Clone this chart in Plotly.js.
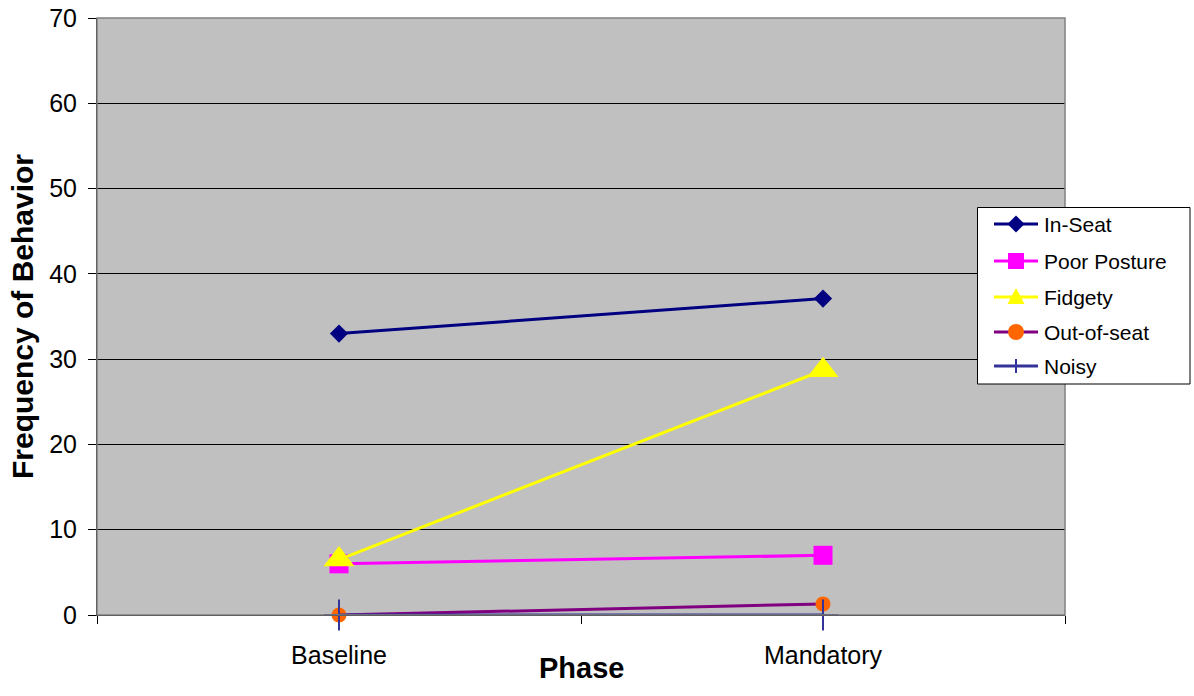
<!DOCTYPE html>
<html>
<head>
<meta charset="utf-8">
<script src="https://cdn.plot.ly/plotly-3.0.1.min.js"></script>
<style>
  html, body { margin: 0; padding: 0; background: #ffffff; }
  #chart { width: 1194px; height: 696px; }
</style>
</head>
<body>
<div id="chart"></div>
<script>
// Phases on the x axis
const phases = ['Baseline', 'Mandatory'];

// Frequency of each behaviour per phase
const inSeat = [33, 37.1];
const poorPosture = [6, 7];
const fidgety = [6.5, 28.7];
const outOfSeat = [0, 1.3];
const noisy = [0, 0];

const seriesNames = ['In-Seat', 'Poor Posture', 'Fidgety', 'Out-of-seat', 'Noisy'];
const yTickValues = [0, 10, 20, 30, 40, 50, 60, 70];

const FONT = 'Liberation Sans, Arial, sans-serif';

// plot-area geometry in pixels
const L = 97, T = 18, W = 968, H = 597;
const FIG_W = 1194, FIG_H = 696;
const px = x => (x - L) / W;
const py = y => (T + H - y) / H;

const styles = [
  { line: '#000080', marker: { symbol: 'diamond', size: 14, color: '#000080', line: { width: 0 } } },
  { line: '#FF00FF', marker: { symbol: 'square', size: 19, color: '#FF00FF', line: { width: 0 } } },
  { line: '#FFFF00', marker: { symbol: 'triangle-up', size: 27, color: '#FFFF00', line: { width: 0 } } },
  { line: '#800080', marker: { symbol: 'circle', size: 15, color: '#FF6600', line: { width: 0 } } },
  { line: '#333399', marker: { symbol: 'cross-thin', size: 22, color: '#333399', line: { width: 2, color: '#333399' } } }
];

const values = [inSeat, poorPosture, fidgety, outOfSeat, noisy];

const traces = values.map((v, i) => ({
  type: 'scatter',
  mode: 'lines+markers',
  name: seriesNames[i],
  x: phases,
  y: v,
  cliponaxis: false,
  line: { color: styles[i].line, width: 3 },
  marker: styles[i].marker,
  showlegend: false,
  hoverinfo: 'x+y+name'
}));

const shapes = [
  // plot frame (top and right edges)
  { type: 'rect', xref: 'paper', yref: 'paper', x0: 0, x1: 1, y0: 0, y1: 1,
    line: { color: '#808080', width: 1.5 }, layer: 'above' },
  // legend box
  { type: 'rect', xref: 'paper', yref: 'paper',
    x0: px(977.5), x1: px(1190), y0: py(384), y1: py(207.5),
    fillcolor: '#ffffff', line: { color: '#000000', width: 1 } }
];
const annotations = [];
const rowY = [224, 261, 297, 332, 366];
const lx0 = 994, lx1 = 1038, mx = 1016;

function polyPath(points) {
  return 'M' + points.map(p => px(p[0]) + ',' + py(p[1])).join('L') + 'Z';
}

// legend rows: line sample, marker sample and label
rowY.forEach((y, i) => {
  shapes.push({ type: 'line', xref: 'paper', yref: 'paper',
    x0: px(lx0), x1: px(lx1), y0: py(y), y1: py(y),
    line: { color: styles[i].line, width: 3 } });
  const c = styles[i].marker.color;
  if (i === 0) {
    shapes.push({ type: 'path', xref: 'paper', yref: 'paper',
      path: polyPath([[mx, y - 8.5], [mx + 8.5, y], [mx, y + 8.5], [mx - 8.5, y]]),
      fillcolor: c, line: { width: 0 } });
  } else if (i === 1) {
    shapes.push({ type: 'rect', xref: 'paper', yref: 'paper',
      x0: px(mx - 8), x1: px(mx + 8), y0: py(y + 8), y1: py(y - 8),
      fillcolor: c, line: { width: 0 } });
  } else if (i === 2) {
    shapes.push({ type: 'path', xref: 'paper', yref: 'paper',
      path: polyPath([[mx, y - 9], [mx + 8.5, y + 7], [mx - 8.5, y + 7]]),
      fillcolor: c, line: { width: 0 } });
  } else if (i === 3) {
    shapes.push({ type: 'circle', xref: 'paper', yref: 'paper',
      x0: px(mx - 8), x1: px(mx + 8), y0: py(y + 8), y1: py(y - 8),
      fillcolor: c, line: { width: 0 } });
  } else {
    shapes.push({ type: 'line', xref: 'paper', yref: 'paper',
      x0: px(mx), x1: px(mx), y0: py(y - 7), y1: py(y + 7),
      line: { color: c, width: 2 } });
  }
  annotations.push({
    xref: 'paper', yref: 'paper', x: px(1042), y: py(y),
    xanchor: 'left', yanchor: 'middle', showarrow: false,
    text: seriesNames[i], font: { family: FONT, size: 21, color: '#000000' }
  });
});

// x axis title, sitting between the category labels
annotations.push({
  xref: 'paper', yref: 'paper', x: 0.5, y: py(668),
  xanchor: 'center', yanchor: 'middle', showarrow: false,
  text: '<b>Phase</b>', font: { family: FONT, size: 29, color: '#000000' }
});

const layout = {
  width: FIG_W,
  height: FIG_H,
  margin: { l: L, r: FIG_W - L - W, t: T, b: FIG_H - T - H, pad: 0 },
  paper_bgcolor: '#ffffff',
  plot_bgcolor: '#c0c0c0',
  font: { family: FONT, color: '#000000' },
  showlegend: false,
  xaxis: {
    type: 'category',
    categoryorder: 'array',
    categoryarray: phases,
    range: [-0.5, 1.5],
    showline: true, linecolor: '#000000', linewidth: 1,
    ticks: 'outside', tickson: 'boundaries', ticklen: 8, tickcolor: '#000000', tickwidth: 1,
    ticklabelstandoff: 18,
    showgrid: false, zeroline: false,
    tickfont: { family: FONT, size: 25, color: '#000000' },
    automargin: false
  },
  yaxis: {
    range: [0, 70],
    tickvals: yTickValues,
    showline: true, linecolor: '#000000', linewidth: 1,
    ticks: 'outside', ticklen: 8, tickcolor: '#000000', tickwidth: 1,
    ticklabelstandoff: 6,
    showgrid: true, gridcolor: '#000000', gridwidth: 1,
    zeroline: false,
    tickfont: { family: FONT, size: 25, color: '#000000' },
    title: { text: '<b>Frequency of Behavior</b>', font: { family: FONT, size: 30, color: '#000000' }, standoff: 6 },
    automargin: false
  },
  shapes: shapes,
  annotations: annotations
};

Plotly.newPlot('chart', traces, layout, { displayModeBar: false, staticPlot: true });
</script>
</body>
</html>
